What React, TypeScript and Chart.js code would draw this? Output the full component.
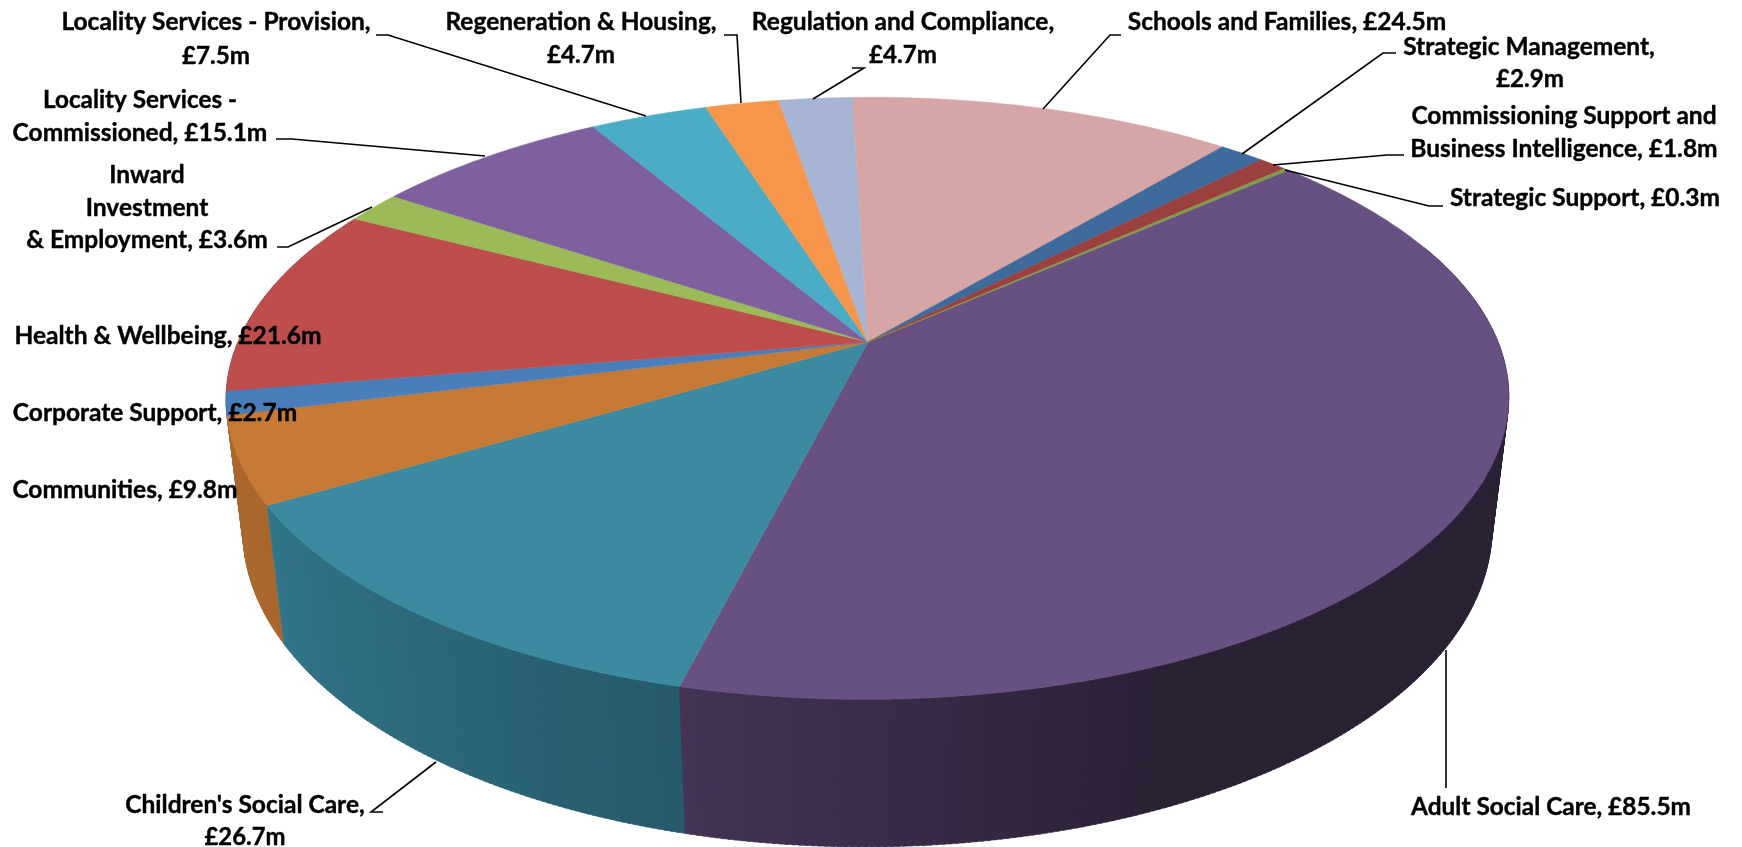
import React, { useEffect, useRef } from "react";
import { Chart, registerables } from "chart.js";

Chart.register(...registerables);

const categories = [
  "Adult Social Care", "Children's Social Care", "Communities", "Corporate Support",
  "Health & Wellbeing", "Inward Investment & Employment", "Locality Services - Commissioned",
  "Locality Services - Provision", "Regeneration & Housing", "Regulation and Compliance",
  "Schools and Families", "Strategic Management",
  "Commissioning Support and Business Intelligence", "Strategic Support",
];
const valuesMillions = [85.5, 26.7, 9.8, 2.7, 21.6, 3.6, 15.1, 7.5, 4.7, 4.7, 24.5, 2.9, 1.8, 0.3];
const sliceColours = [
  "#695082", "#3b8aa2", "#c77936", "#4a7ebb", "#bd4e4c", "#9bbb59", "#7f609e",
  "#4bacc6", "#f5964a", "#a7b5d5", "#d6a6a6", "#3f6a9c", "#9a403e", "#7f9a48",
];

// Label lines: text, centre x, baseline y, width in the reference
const labelLines: [string, number, number, number][] = [
  ["Locality Services - Provision,", 216, 29.5, 310],
  ["£7.5m", 216, 64, 68],
  ["Locality Services -", 140, 108, 194],
  ["Commissioned, £15.1m", 140, 141, 257],
  ["Inward", 147, 183, 77],
  ["Investment", 147, 216, 125],
  ["& Employment, £3.6m", 147, 248, 247],
  ["Regeneration & Housing,", 581, 29.5, 275],
  ["£4.7m", 581, 63, 68],
  ["Regulation and Compliance,", 903, 29.5, 310],
  ["£4.7m", 903, 63, 68],
  ["Schools and Families, £24.5m", 1287, 29.5, 324],
  ["Strategic Management,", 1529, 54.5, 259],
  ["£2.9m", 1530, 87, 68],
  ["Commissioning Support and", 1564, 124, 311],
  ["Business Intelligence, £1.8m", 1564, 157, 312],
  ["Strategic Support, £0.3m", 1585, 206, 274],
  ["Health & Wellbeing, £21.6m", 168, 344, 310],
  ["Corporate Support, £2.7m", 155, 420.5, 288],
  ["Communities, £9.8m", 125, 497.5, 228],
  ["Children's Social Care,", 245, 813, 243],
  ["£26.7m", 245, 845, 81],
  ["Adult Social Care, £85.5m", 1551, 815, 280],
];

// Leader lines as polylines
const leaderLines: [number, number][][] = [
  [[376, 35], [388, 35], [646, 116]],
  [[276, 139], [292, 139], [485, 156]],
  [[277, 247], [288, 247], [372, 207]],
  [[724, 35], [737, 35], [741, 103]],
  [[852, 68], [864, 68], [813, 99]],
  [[1121, 35], [1110, 35], [1043, 109]],
  [[1396, 53], [1383, 53], [1242, 154]],
  [[1404, 155], [1387, 155], [1273, 165]],
  [[1443, 206], [1429, 206], [1285, 170]],
  [[383, 812], [371, 812], [436, 762]],
  [[1446, 788], [1446, 650]],
];

const startRotation = 48.3;
const centreX = 868;
const centreY = 342;
const radiusX = 630;
const radiusY = 290.5;
const shearX = -3;
const tilt = 0.187;
const depth = 133;
const depthShrink = 0.026;

const project = (a: number, z: number): [number, number] => {
  const u = Math.cos(a);
  const v = Math.sin(a);
  const w = 1 - tilt * v + depthShrink * z;
  return [centreX + (radiusX * u + shearX * v) / w, centreY + (radiusY * v + depth * z) / w];
};

const shadeStops: [number, number][] = [[0, 0.41], [158, 0.41], [195, 0.66], [240, 0.85], [272, 0.88], [360, 0.88]];
const shadeAt = (a: number) => {
  let t = ((a * 180) / Math.PI + 90) % 360;
  if (t < 0) t += 360;
  for (let i = 1; i < shadeStops.length; i++) {
    const [t0, f0] = shadeStops[i - 1];
    const [t1, f1] = shadeStops[i];
    if (t <= t1) return f0 + ((t - t0) / (t1 - t0)) * (f1 - f0);
  }
  return 0.88;
};
const darken = (hex: string, f: number) => {
  const n = parseInt(hex.slice(1), 16);
  return `rgb(${Math.round(((n >> 16) & 255) * f)},${Math.round(((n >> 8) & 255) * f)},${Math.round((n & 255) * f)})`;
};

const pie3d = {
  id: "pie3d",
  beforeDatasetsDraw(chart: any) {
    const ctx: CanvasRenderingContext2D = chart.ctx;
    const arcs: any[] = chart.getDatasetMeta(0).data;
    const step = (0.5 * Math.PI) / 180;
    const quads: { a: number; b: number; colour: string }[] = [];
    arcs.forEach((arc) => {
      const colour = arc.options.backgroundColor;
      for (let a = arc.startAngle; a < arc.endAngle; a += step) {
        const b = Math.min(a + step * 1.5, arc.endAngle);
        if (Math.sin(a) > -0.35) quads.push({ a, b, colour });
      }
    });
    quads.sort((p, q) => Math.sin(p.a) - Math.sin(q.a));
    ctx.save();
    ctx.lineWidth = 0.6;
    ctx.lineJoin = "round";
    quads.forEach(({ a, b, colour }) => {
      const p = [project(a, 0), project(b, 0), project(b, 1), project(a, 1)];
      ctx.beginPath();
      p.forEach(([x, y], i) => (i ? ctx.lineTo(x, y) : ctx.moveTo(x, y)));
      ctx.closePath();
      const shade = darken(colour, shadeAt((a + b) / 2));
      ctx.fillStyle = shade;
      ctx.strokeStyle = shade;
      ctx.fill();
      ctx.stroke();
    });
    arcs.forEach((arc) => {
      const colour = arc.options.backgroundColor;
      ctx.beginPath();
      ctx.moveTo(centreX, centreY);
      const n = Math.max(2, Math.ceil((arc.endAngle - arc.startAngle) / (step / 2)));
      for (let i = 0; i <= n; i++) {
        const [x, y] = project(arc.startAngle + ((arc.endAngle - arc.startAngle) * i) / n, 0);
        ctx.lineTo(x, y);
      }
      ctx.closePath();
      ctx.fillStyle = colour;
      ctx.strokeStyle = colour;
      ctx.lineWidth = 0.5;
      ctx.fill();
      ctx.stroke();
    });
    ctx.restore();
    return false;
  },
  afterDraw(chart: any) {
    const ctx: CanvasRenderingContext2D = chart.ctx;
    ctx.save();
    ctx.strokeStyle = "#000";
    ctx.lineWidth = 1.6;
    leaderLines.forEach((pts) => {
      ctx.beginPath();
      pts.forEach(([x, y], i) => (i ? ctx.lineTo(x, y) : ctx.moveTo(x, y)));
      ctx.stroke();
    });
    ctx.fillStyle = "#000";
    ctx.font = 'bold 24.5px Lato, "Open Sans", sans-serif';
    ctx.textAlign = "center";
    ctx.textBaseline = "alphabetic";
    ctx.lineWidth = 0.4;
    ctx.lineJoin = "round";
    labelLines.forEach(([text, x, y, width]) => {
      ctx.fillText(text, x, y, width);
      ctx.strokeText(text, x, y, width);
    });
    ctx.restore();
  },
};

export default function App() {
  const ref = useRef<HTMLCanvasElement>(null);
  useEffect(() => {
    const chart = new Chart(ref.current!, {
      type: "pie",
      data: {
        labels: categories,
        datasets: [{ data: valuesMillions, backgroundColor: sliceColours, borderWidth: 0 }],
      },
      options: {
        animation: false,
        responsive: false,
        rotation: startRotation,
        plugins: { legend: { display: false }, tooltip: { enabled: false } },
      },
      plugins: [pie3d],
    } as any);
    return () => chart.destroy();
  }, []);
  return (
    <div style={{ position: "absolute", left: 0, top: 0, width: 1742, height: 847, overflow: "hidden", background: "#fff" }}>
      <canvas ref={ref} width={1742} height={847} style={{ display: "block" }} />
    </div>
  );
}
